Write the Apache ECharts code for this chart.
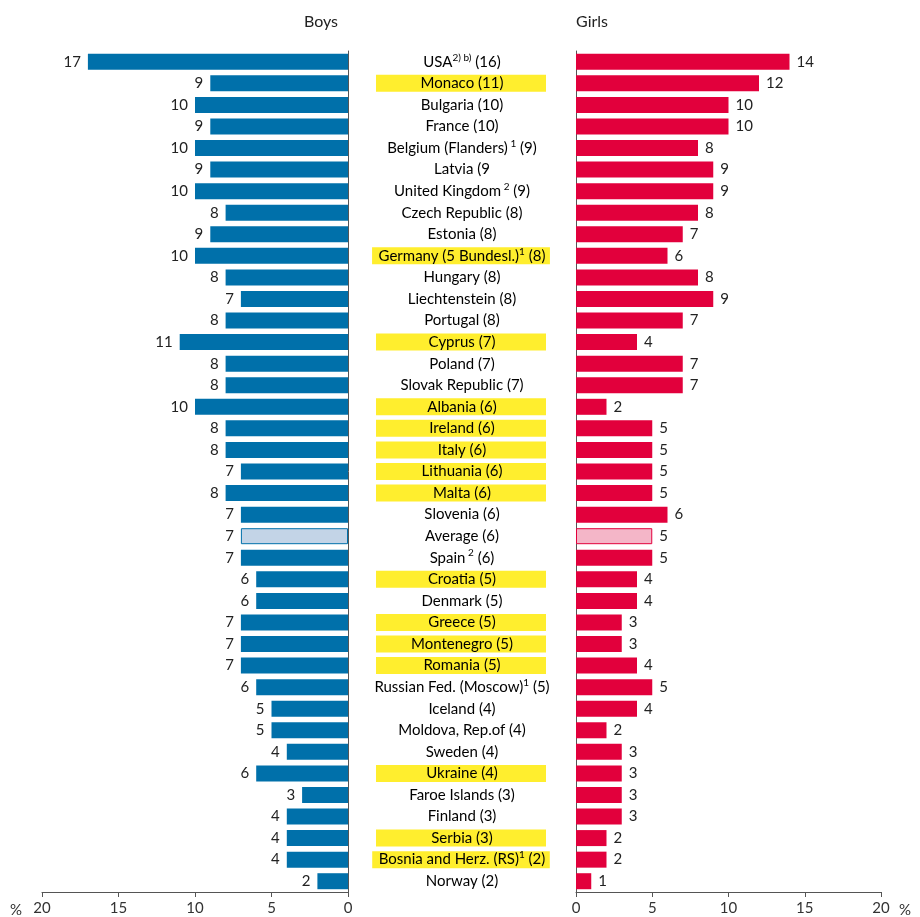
<!DOCTYPE html>
<html><head><meta charset="utf-8">
<script src="https://cdn.jsdelivr.net/npm/echarts@6/dist/echarts.min.js"></script>
<style>html,body{margin:0;padding:0;background:#fff}#c{width:920px;height:917px}</style>
</head><body><div id="c"></div>
<script>
const names = ['USA','Monaco','Bulgaria','France','Belgium (Flanders)','Latvia','United Kingdom','Czech Republic','Estonia','Germany (5 Bundesl.)','Hungary','Liechtenstein','Portugal','Cyprus','Poland','Slovak Republic','Albania','Ireland','Italy','Lithuania','Malta','Slovenia','Average','Spain','Croatia','Denmark','Greece','Montenegro','Romania','Russian Fed. (Moscow)','Iceland','Moldova, Rep.of','Sweden','Ukraine','Faroe Islands','Finland','Serbia','Bosnia and Herz. (RS)','Norway'];
const notes = ['2) b)','','','',' 1','',' 2','','','1','','','','','','','','','','','','','',' 2','','','','','','1','','','','','','','','1',''];
const totals = [' (16)',' (11)',' (10)',' (10)',' (9)',' (9',' (9)',' (8)',' (8)',' (8)',' (8)',' (8)',' (8)',' (7)',' (7)',' (7)',' (6)',' (6)',' (6)',' (6)',' (6)',' (6)',' (6)',' (6)',' (5)',' (5)',' (5)',' (5)',' (5)',' (5)',' (4)',' (4)',' (4)',' (4)',' (3)',' (3)',' (3)',' (2)',' (2)'];
const highlighted = ['Monaco','Germany (5 Bundesl.)','Cyprus','Albania','Ireland','Italy','Lithuania','Malta','Croatia','Greece','Montenegro','Romania','Ukraine','Serbia','Bosnia and Herz. (RS)'];
const boys = [17,9,10,9,10,9,10,8,9,10,8,7,8,11,8,8,10,8,8,7,8,7,7,7,6,6,7,7,7,6,5,5,4,6,3,4,4,4,2];
const girls = [14,12,10,10,8,9,9,8,7,6,8,9,7,4,7,7,2,5,5,5,5,6,5,5,4,4,3,3,4,5,4,2,3,3,3,3,2,2,1];

const FONT = 'Lato';
const FS = 15;
const BLUE = '#0070aa', RED = '#e2003c', YELLOW = '#ffee2e';
const cv = document.createElement('canvas').getContext('2d');
function measure(i){
  cv.font = FS + 'px ' + FONT;
  let w = cv.measureText(names[i] + totals[i]).width;
  cv.font = '10px ' + FONT;
  w += cv.measureText(notes[i]).width;
  return w;
}
const chart = echarts.init(document.getElementById('c'));
const AX = '#555';
function xAx(grid, inverse){
  return {gridIndex:grid, type:'value', min:0, max:20, interval:5, inverse:inverse,
    axisLine:{show:true, lineStyle:{color:AX, width:1}},
    axisTick:{show:true, length:5, lineStyle:{color:AX}},
    axisLabel:{fontSize:FS, color:'#333', fontFamily:FONT, margin:9},
    splitLine:{show:false}};
}
function yAx(grid, pos, showLine){
  return {gridIndex:grid, type:'category', data:names, inverse:true, position:pos,
    axisLine:{show:showLine, lineStyle:{color:AX}}, axisTick:{show:false}, axisLabel:{show:false}};
}
const barData = (arr, light, main) => arr.map((v,i)=> names[i]==='Average'
  ? {value:v, itemStyle:{color:light, borderColor:main, borderWidth:1}} : v);
const rich = {
  a:{fontSize:FS, fontFamily:FONT, color:'#222', lineHeight:19},
  s:{fontSize:10, fontFamily:FONT, color:'#222', verticalAlign:'top', lineHeight:19}
};
chart.setOption({
  animation:false,
  textStyle:{fontFamily:FONT},
  grid:[
    {left:42, right:572, top:51, bottom:25},
    {left:576, right:39, top:51, bottom:25},
    {left:348, right:344, top:51, bottom:25}
  ],
  xAxis:[xAx(0,true), xAx(1,false), {gridIndex:2, type:'value', min:0, max:1, show:false}],
  yAxis:[yAx(0,'right',true), yAx(1,'left',true), Object.assign(yAx(2,'left',false),{show:false})],
  graphic:[
    {type:'text', x:321, y:22, style:{text:'Boys', font:'16px '+FONT, fill:'#222', align:'center', verticalAlign:'middle'}},
    {type:'text', x:592, y:22, style:{text:'Girls', font:'16px '+FONT, fill:'#222', align:'center', verticalAlign:'middle'}},
    {type:'text', x:16, y:910, style:{text:'%', font:FS+'px '+FONT, fill:'#333', align:'center', verticalAlign:'middle'}},
    {type:'text', x:905, y:910, style:{text:'%', font:FS+'px '+FONT, fill:'#333', align:'center', verticalAlign:'middle'}}
  ],
  series:[
    {type:'bar', xAxisIndex:0, yAxisIndex:0, barWidth:16, itemStyle:{color:BLUE},
     data:barData(boys,'#c3d4e7',BLUE),
     label:{show:true, position:'left', distance:7, fontSize:FS, color:'#222', fontFamily:FONT}},
    {type:'bar', xAxisIndex:1, yAxisIndex:1, barWidth:16, itemStyle:{color:RED},
     data:barData(girls,'#f4b6c8',RED),
     label:{show:true, position:'right', distance:7, fontSize:FS, color:'#222', fontFamily:FONT}},
    {type:'custom', xAxisIndex:2, yAxisIndex:2,
     data:names.map((n,i)=>[0.5,i]),
     renderItem:function(params, api){
       const i = params.dataIndex;
       const p = api.coord([0.5, i]);
       const children = [];
       if (highlighted.indexOf(names[i])>=0){
         const w = Math.max(170, measure(i)+11);
         children.push({type:'rect', shape:{x:p[0]-w/2-1, y:p[1]-8.5, width:w, height:17}, style:{fill:YELLOW}});
       }
       let t = '{a|'+names[i]+'}' + (notes[i] ? '{s|'+notes[i]+'}' : '') + '{a|'+totals[i]+'}';
       children.push({type:'text', x:p[0], y:p[1], style:{text:t, rich:rich, align:'center', verticalAlign:'middle'}});
       return {type:'group', children:children};
     }}
  ]
});
</script></body></html>
